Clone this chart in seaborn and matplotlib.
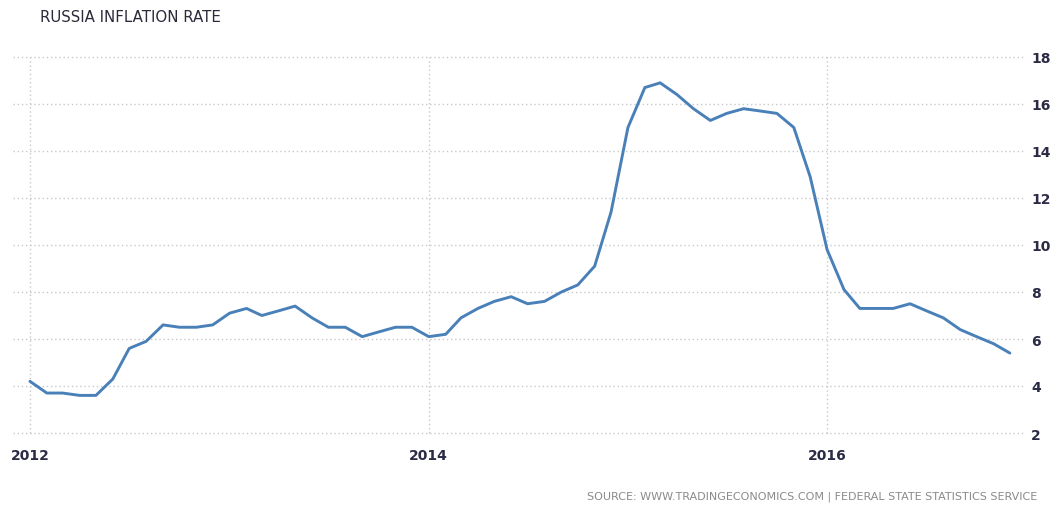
import matplotlib
matplotlib.use("Agg")
import matplotlib.pyplot as plt
import seaborn as sns
import pandas as pd

# ---- data (monthly, Jan 2012 - Dec 2016) ----
start_month = "2012-01-01"
inflation = [
    4.2, 3.7, 3.7, 3.6, 3.6, 4.3, 5.6, 5.9, 6.6, 6.5, 6.5, 6.6,   # 2012
    7.1, 7.3, 7.0, 7.2, 7.4, 6.9, 6.5, 6.5, 6.1, 6.3, 6.5, 6.5,   # 2013
    6.1, 6.2, 6.9, 7.3, 7.6, 7.8, 7.5, 7.6, 8.0, 8.3, 9.1, 11.4,  # 2014
    15.0, 16.7, 16.9, 16.4, 15.8, 15.3, 15.6, 15.8, 15.7, 15.6, 15.0, 12.9,  # 2015
    9.8, 8.1, 7.3, 7.3, 7.3, 7.5, 7.2, 6.9, 6.4, 6.1, 5.8, 5.4,   # 2016
]
x_ticks = ["2012-01-01", "2014-01-01", "2016-01-01"]
x_tick_labels = ["2012", "2014", "2016"]
y_ticks = [2, 4, 6, 8, 10, 12, 14, 16, 18]
title = "RUSSIA INFLATION RATE"
source = "SOURCE: WWW.TRADINGECONOMICS.COM | FEDERAL STATE STATISTICS SERVICE"

dates = pd.date_range(start_month, periods=len(inflation), freq="MS")
df = pd.DataFrame({"date": dates, "value": inflation})

sns.set_theme(style="white")
plt.rcParams["font.family"] = ["DejaVu Sans"]

fig = plt.figure(figsize=(10.51, 5.06), dpi=100)
ax = fig.add_axes([13 / 1051, 1 - 434 / 506, (1023 - 13) / 1051, (434 - 58) / 506])

sns.lineplot(data=df, x="date", y="value", ax=ax, color="#4a80b8", linewidth=2.1,
             solid_joinstyle="round", solid_capstyle="round", zorder=3)

ax.set_xlim(pd.Timestamp("2011-12-01"), pd.Timestamp("2016-12-25"))
ax.set_ylim(2, 18)
ax.set_xticks([pd.Timestamp(t) for t in x_ticks])
ax.set_xticklabels(x_tick_labels)
ax.set_yticks(y_ticks)
ax.set_yticklabels([str(v) for v in y_ticks])

ax.yaxis.tick_right()
ax.tick_params(axis="y", length=0, pad=6, labelsize=10, labelcolor="#2b2b45")
ax.tick_params(axis="x", length=7, width=1.2, color="#d8d8d8", pad=4,
               labelsize=10, labelcolor="#2b2b45", direction="out")
for lbl in ax.get_xticklabels() + ax.get_yticklabels():
    lbl.set_fontweight("bold")

ax.grid(True, axis="both", color="#c8c8c8", linestyle=(0, (1, 2)), linewidth=1)
for gl in ax.get_xgridlines() + ax.get_ygridlines():
    gl.set_clip_on(False)
for s in ax.spines.values():
    s.set_visible(False)
ax.set_xlabel("")
ax.set_ylabel("")

fig.text(40 / 1051, 1 - 18 / 506, title, ha="left", va="center",
         fontsize=10.8, color="#2a2a3a")
fig.text(1037 / 1051, 1 - 497 / 506, source, ha="right", va="center",
         fontsize=8, color="#8a8a8a")

fig.savefig("out.png", dpi=100)
